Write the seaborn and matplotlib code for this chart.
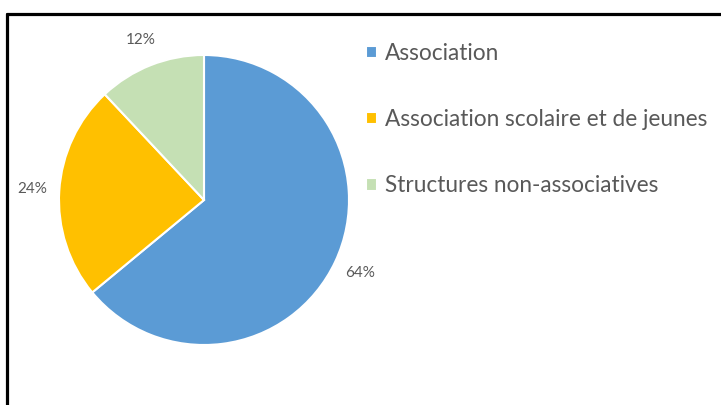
import matplotlib
matplotlib.use("Agg")
import matplotlib.pyplot as plt
import seaborn as sns
from matplotlib.lines import Line2D

# Data
categories = ["Association", "Association scolaire et de jeunes", "Structures non-associatives"]
shares = [64, 24, 12]
colors = ["#5B9BD5", "#FFC000", "#C5E0B4"]

sns.set_theme(style="white")
plt.rcParams["font.family"] = ["Lato", "DejaVu Sans"]

fig = plt.figure(figsize=(7.21, 4.05), dpi=100)
ax = fig.add_axes([59 / 721, 60 / 405, 290 / 721, 290 / 405])

wedges, texts, autotexts = ax.pie(
    shares, colors=colors, startangle=90, counterclock=False,
    autopct="%1.0f%%", pctdistance=1.19,
    wedgeprops={"edgecolor": "white", "linewidth": 1.5},
    textprops={"color": "#595959", "fontsize": 11},
)
ax.set_xlim(-1, 1)
ax.set_ylim(-1, 1)
ax.set_aspect("equal")
for t in autotexts:
    t.set_clip_on(False)

leg = fig.legend(
    wedges, categories, loc="upper left", bbox_to_anchor=(366 / 721, 1 - 43 / 405),
    frameon=False, fontsize=16.3, labelcolor="#595959",
    handlelength=0.5, handleheight=0.5, handletextpad=0.35, labelspacing=1.99,
    borderaxespad=0, borderpad=0,
)

# frame line on top and left of the picture
fig.add_artist(Line2D([6.5 / 721, 1], [1 - 13.5 / 405] * 2, color="black", lw=2.3, transform=fig.transFigure))
fig.add_artist(Line2D([6.5 / 721] * 2, [0, 1 - 13.5 / 405], color="black", lw=2.3, transform=fig.transFigure))

fig.savefig("out.png", dpi=100)
